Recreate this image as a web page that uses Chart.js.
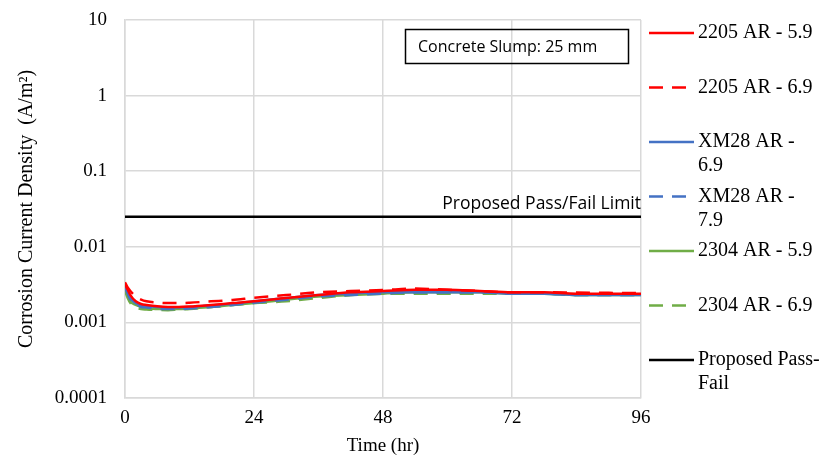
<!DOCTYPE html>
<html>
<head>
<meta charset="utf-8">
<script src="https://cdn.jsdelivr.net/npm/chart.js@4"></script>
<style>
  html, body { margin: 0; padding: 0; background: #fff; }
  #wrap { width: 836px; height: 466px; }
</style>
</head>
<body>
<div id="wrap"><canvas id="myChart" width="836" height="466"></canvas></div>
<script>
/*---------------------------- data ------------------------------------*/
var timeHours = [0, 0.5, 1, 2, 3, 4, 6, 8, 10, 12, 16, 20, 24, 30, 36, 42, 48, 54, 60, 66, 72, 78, 84, 90, 96];

var s2205_59 = [0.0032, 0.0027, 0.0023, 0.0019, 0.00175, 0.0017, 0.00163, 0.0016, 0.0016, 0.00162, 0.0017, 0.0018, 0.0019, 0.0021, 0.0023, 0.0025, 0.0026, 0.0027, 0.0027, 0.0026, 0.0025, 0.0025, 0.0024, 0.0024, 0.0024];
var s2205_69 = [0.0034, 0.0029, 0.0026, 0.0022, 0.0020, 0.0019, 0.00183, 0.0018, 0.0018, 0.00182, 0.0019, 0.00198, 0.00212, 0.0023, 0.0025, 0.0026, 0.00268, 0.0028, 0.0027, 0.0026, 0.0025, 0.0025, 0.00248, 0.00246, 0.00244];
var sXM28_69 = [0.0030, 0.0025, 0.0021, 0.0018, 0.0017, 0.00165, 0.0016, 0.00158, 0.00158, 0.0016, 0.00168, 0.00177, 0.0019, 0.0021, 0.0023, 0.0024, 0.0025, 0.0025, 0.0025, 0.0025, 0.0024, 0.0024, 0.0023, 0.0023, 0.0023];
var sXM28_79 = [0.0029, 0.0024, 0.0020, 0.0018, 0.0016, 0.00158, 0.00152, 0.0015, 0.0015, 0.00153, 0.0016, 0.0017, 0.00182, 0.0020, 0.0022, 0.0023, 0.0024, 0.0025, 0.0025, 0.0025, 0.0024, 0.0024, 0.0023, 0.0023, 0.0023];
var s2304_59 = [0.0028, 0.0023, 0.0019, 0.0017, 0.0016, 0.00155, 0.0015, 0.0015, 0.0015, 0.00153, 0.0016, 0.0017, 0.0018, 0.0020, 0.0022, 0.0023, 0.0024, 0.0025, 0.0025, 0.0025, 0.0024, 0.0024, 0.0023, 0.0023, 0.0023];
var s2304_69 = [0.0026, 0.0021, 0.0018, 0.0016, 0.0015, 0.00148, 0.00146, 0.00145, 0.00148, 0.0015, 0.0016, 0.0017, 0.0018, 0.0019, 0.0021, 0.0023, 0.0024, 0.0024, 0.0024, 0.0024, 0.0024, 0.0024, 0.0023, 0.0023, 0.0023];

var passFailTime = [0, 96];
var passFailValue = [0.025, 0.025];

var seriesNames = ["2205 AR - 5.9", "2205 AR - 6.9", "XM28 AR -\n6.9", "XM28 AR -\n7.9", "2304 AR - 5.9", "2304 AR - 6.9", "Proposed Pass-\nFail"];
var yTickValues = [0.0001, 0.001, 0.01, 0.1, 1, 10];
var xTickValues = [0, 24, 48, 72, 96];

/*---------------------------- helpers ------------------------------------*/
var serif = "'Liberation Serif', 'Times New Roman', serif";
var sans = "'Open Sans', 'Noto Sans', sans-serif";

function pts(xs, ys) {
  return xs.map(function (x, i) { return { x: x, y: ys[i] }; });
}

function series(name, ys, color, dash) {
  return {
    label: name,
    data: pts(timeHours, ys),
    borderColor: color,
    backgroundColor: color,
    borderWidth: 2.5,
    borderDash: dash,
    pointRadius: 0,
    fill: false,
    cubicInterpolationMode: "monotone"
  };
}

// legend on the right + text boxes, drawn on the canvas
var extras = {
  id: "extras",
  afterDraw: function (chart) {
    var ctx = chart.ctx;
    var area = chart.chartArea;
    ctx.save();

    // legend
    ctx.font = "20px " + serif;
    ctx.textBaseline = "middle";
    ctx.textAlign = "left";
    chart.data.datasets.forEach(function (ds, i) {
      var y = 33 + i * 54.5;
      ctx.strokeStyle = ds.borderColor;
      ctx.lineWidth = 2.5;
      ctx.setLineDash(ds.borderDash || []);
      ctx.beginPath();
      ctx.moveTo(649, y);
      ctx.lineTo(694, y);
      ctx.stroke();
      ctx.setLineDash([]);
      ctx.fillStyle = "#000";
      ds.label.split("\n").forEach(function (line, j) {
        ctx.fillText(line, 698, y + j * 24);
      });
    });

    // slump box
    ctx.strokeStyle = "#000";
    ctx.lineWidth = 1.5;
    ctx.strokeRect(405.5, 29.5, 223, 34);
    ctx.font = "16px " + sans;
    ctx.fillStyle = "#000";
    ctx.textAlign = "left";
    ctx.fillText("Concrete Slump: 25 mm", 418, 47);

    // pass/fail label
    var yPF = chart.scales.y.getPixelForValue(passFailValue[0]);
    ctx.font = "17.5px " + sans;
    ctx.textAlign = "right";
    ctx.textBaseline = "alphabetic";
    ctx.fillText("Proposed Pass/Fail Limit", area.right, yPF - 8);
    ctx.restore();
  }
};

/*---------------------------- chart ------------------------------------*/
new Chart("myChart", {
  type: "line",
  data: {
    datasets: [
      series(seriesNames[0], s2205_59, "#ff0000", []),
      series(seriesNames[1], s2205_69, "#ff0000", [14, 9]),
      series(seriesNames[2], sXM28_69, "#4472c4", []),
      series(seriesNames[3], sXM28_79, "#4472c4", [14, 9]),
      series(seriesNames[4], s2304_59, "#70ad47", []),
      series(seriesNames[5], s2304_69, "#70ad47", [14, 9]),
      {
        label: seriesNames[6],
        data: pts(passFailTime, passFailValue),
        borderColor: "#000",
        backgroundColor: "#000",
        borderWidth: 2.5,
        borderDash: [],
        pointRadius: 0,
        fill: false
      }
    ]
  },
  options: {
    responsive: false,
    animation: false,
    layout: { padding: { top: 20, right: 195, left: 0, bottom: 0 } },
    plugins: {
      legend: { display: false },
      tooltip: { enabled: false }
    },
    scales: {
      x: {
        type: "linear",
        min: 0,
        max: 96,
        afterBuildTicks: function (scale) {
          scale.ticks = xTickValues.map(function (v) { return { value: v }; });
        },
        afterFit: function (scale) { scale.height = 68; },
        grid: { color: "#d9d9d9", lineWidth: 1.5, drawTicks: false },
        border: { color: "#d9d9d9", width: 1.5 },
        ticks: { color: "#000", padding: 9, font: { family: serif, size: 19 } },
        title: {
          display: true,
          text: "Time (hr)",
          color: "#000",
          font: { family: serif, size: 19 },
          padding: { top: 0, bottom: 9 }
        }
      },
      y: {
        type: "logarithmic",
        min: 0.0001,
        max: 10,
        afterBuildTicks: function (scale) {
          scale.ticks = yTickValues.map(function (v) { return { value: v }; });
        },
        afterFit: function (scale) { scale.width = 125; },
        // invisible tick marks give the label gap without padding the top
        grid: { color: "#d9d9d9", lineWidth: 1.5, drawTicks: true, tickLength: 18, tickColor: "rgba(0,0,0,0)" },
        border: { color: "#d9d9d9", width: 1.5 },
        ticks: {
          color: "#000",
          padding: 0,
          font: { family: serif, size: 19 },
          callback: function (v) { return String(v); }
        },
        title: {
          display: true,
          text: "Corrosion Current Density  (A/m\u00b2)",
          color: "#000",
          font: { family: serif, size: 20 },
          padding: { top: 15, bottom: 0 }
        }
      }
    }
  },
  plugins: [extras]
});
</script>
</body>
</html>
